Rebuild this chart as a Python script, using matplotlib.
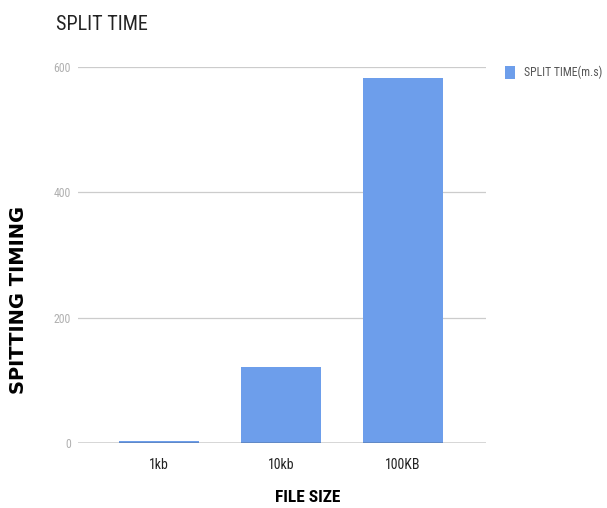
import matplotlib
matplotlib.use("Agg")
import matplotlib.pyplot as plt

categories = ["1kb", "10kb", "100KB"]
split_time = [3, 121, 582]
y_ticks = [0, 200, 400, 600]

plt.rcParams['font.family'] = ['Roboto', 'DejaVu Sans']
condensed = ["Roboto Condensed", "Liberation Sans Narrow", "Roboto", "DejaVu Sans"]

fig = plt.figure(figsize=(6.07, 5.08), dpi=100)
ax = fig.add_axes([78 / 607, 1 - 443 / 508, 408 / 607, 376 / 508])

x = range(len(categories))
bars = ax.bar(x, split_time, width=0.65, color="#6d9eeb", zorder=3,
              label="SPLIT TIME(m.s)")

ax.set_xlim(-0.665, 2.68)
ax.set_ylim(0, 600)
ax.set_yticks(y_ticks)
ax.set_yticklabels([str(v) for v in y_ticks], color="#b0b0b0", fontsize=8.5,
                   family=condensed)
ax.set_xticks(list(x))
ax.set_xticklabels(categories, color="#222222", fontsize=10, family=condensed)
ax.tick_params(axis="both", length=0)
ax.tick_params(axis="y", pad=5)
ax.tick_params(axis="x", pad=11)

for v in y_ticks[1:]:
    ax.axhline(v, color="#cccccc", linewidth=0.9, zorder=1)
ax.axhline(0, color="#333333", linewidth=1.0, zorder=4)

for s in ax.spines.values():
    s.set_visible(False)

fig.text(56 / 607, 1 - 25 / 508, "SPLIT TIME", fontsize=14.5, color="#222222",
         va="center", ha="left", family=condensed)

fig.text(308 / 607, 1 - 497 / 508, "FILE SIZE", fontsize=12.5,
         fontweight="bold", color="#000000", va="center", ha="center",
         family=condensed)
fig.text(18.5 / 607, 1 - 300 / 508, "SPITTING TIMING", fontsize=14,
         fontweight="bold", family=["DejaVu Sans"],
         rotation=90, va="center", ha="center", color="#000000")

leg = fig.legend(handles=[bars], labels=["SPLIT TIME(m.s)"],
                 loc="upper left", bbox_to_anchor=(494 / 607, 1 - 55 / 508),
                 frameon=False, handlelength=0.9,
                 handleheight=1.4, handletextpad=0.7,
                 prop={"family": condensed, "size": 8.5})
for t in leg.get_texts():
    t.set_color("#555555")

fig.savefig("out.png", dpi=100)
